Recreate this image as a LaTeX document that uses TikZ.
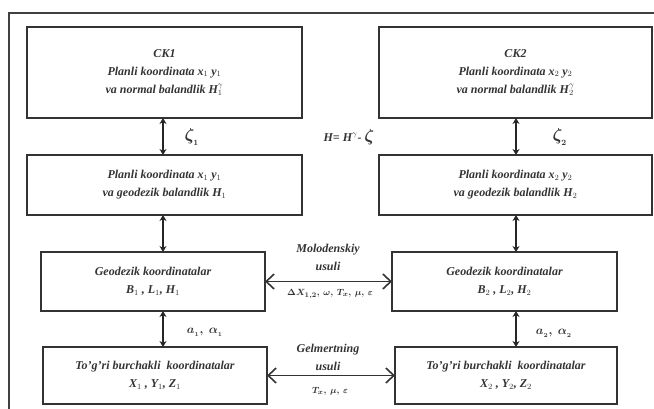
\documentclass[tikz,border=0pt]{standalone}
\usepackage{fontspec}
\setmainfont{Liberation Serif}
\usetikzlibrary{arrows.meta}
\begin{document}
\begin{tikzpicture}[x=1pt,y=-1pt,
  box/.style={draw=black!80, line width=1.9pt, inner sep=0pt, outer sep=0pt, align=center,
    font=\bfseries\itshape\fontsize{12}{18}\selectfont, text=black!80},
  lbl/.style={inner sep=0pt, align=center, font=\bfseries\itshape\fontsize{12}{18}\selectfont, text=black!80},
  sml/.style={inner sep=0pt, font=\bfseries\itshape\fontsize{9}{11}\selectfont, text=black!80},
  varr/.style={draw=black!85, line width=1.5pt, {Stealth[length=6pt,width=7pt]}-{Stealth[length=6pt,width=7pt]}},
  harr/.style={draw=black!80, line width=1.6pt, {Straight Barb[length=8pt,width=15pt]}-{Straight Barb[length=8pt,width=15pt]}},
  frame/.style={draw=black!75, line width=2.2pt}]
\useasboundingbox (0,0) rectangle (654,409);
\draw[frame] (9,409) -- (9,13) -- (654,13);
% boxes
\node[box, minimum width=275pt, minimum height=91pt] (ck1) at (164.5,72.5)
  {CK1\\Planli koordinata x$_1$ y$_1$\\va normal balandlik H$_1^{\gamma}$};
\node[box, minimum width=273pt, minimum height=91pt] (ck2) at (515.5,72.5)
  {CK2\\Planli koordinata x$_2$ y$_2$\\va normal balandlik H$_2^{\gamma}$};
\node[box, minimum width=275pt, minimum height=60pt] (p1) at (164.5,185)
  {Planli koordinata x$_1$ y$_1$\\va geodezik balandlik H$_1$};
\node[box, minimum width=273pt, minimum height=60pt] (p2) at (515.5,185)
  {Planli koordinata x$_2$ y$_2$\\va geodezik balandlik H$_2$};
\node[box, minimum width=224pt, minimum height=59pt] (g1) at (153,281.5)
  {Geodezik koordinatalar\\B$_1$ ,\ L$_1$,\ H$_1$};
\node[box, minimum width=225pt, minimum height=59pt] (g2) at (504.5,281.5)
  {Geodezik koordinatalar\\B$_2$ ,\ L$_2$,\ H$_2$};
\node[box, minimum width=224pt, minimum height=57pt] (t1) at (155,375.5)
  {To'g'ri burchakli\ \ koordinatalar\\X$_1$ ,\ Y$_1$,\ Z$_1$};
\node[box, minimum width=222pt, minimum height=57pt] (t2) at (506,375.5)
  {To'g'ri burchakli\ \ koordinatalar\\X$_2$ ,\ Y$_2$,\ Z$_2$};
% arrow columns
\coordinate (xl) at (163,0);
\coordinate (xr) at (516,0);
\draw[varr] (ck1.south -| xl) -- (p1.north -| xl);
\draw[varr] (p1.south -| xl) -- (g1.north -| xl);
\draw[varr] (g1.south -| xl) -- (t1.north -| xl);
\draw[varr] (ck2.south -| xr) -- (p2.north -| xr);
\draw[varr] (p2.south -| xr) -- (g2.north -| xr);
\draw[varr] (g2.south -| xr) -- (t2.north -| xr);
\draw[harr] (g1.east) -- (g2.west);
\draw[harr] (t1.east) -- (t2.west);
% labels
\node[lbl, font=\fontsize{17}{17}\selectfont\boldmath] (z1) at (192,137) {$\zeta_{_1}$};
\node[lbl, font=\fontsize{17}{17}\selectfont\boldmath] (z2) at (560,137) {$\zeta_{_2}$};
\node[lbl, font=\bfseries\itshape\fontsize{12}{14}\selectfont] (hf) at (349,137)
  {H= H$^{\gamma}$- {\fontsize{17}{17}\selectfont\boldmath$\zeta$}};
\node[lbl, font=\fontsize{12}{14}\selectfont\boldmath] (a1) at (205,332) {$a_{_1},\ \alpha_{_1}$};
\node[lbl, font=\fontsize{12}{14}\selectfont\boldmath] (a2) at (554,333) {$a_{_2},\ \alpha_{_2}$};
\node[lbl] (mol) at (328,257) {Molodenskiy\\usuli};
\node[sml, font=\fontsize{9.5}{11}\selectfont\boldmath] (molp) at (330,294) {$\Delta X_{1,2},\,\omega,\, T_{x},\,\mu,\,\varepsilon$};
\node[lbl] (gel) at (328,357) {Gelmertning\\usuli};
\node[sml, font=\fontsize{9.5}{11}\selectfont\boldmath] (gelp) at (330,391) {$T_{x},\,\mu,\,\varepsilon$};
\end{tikzpicture}
\end{document}
